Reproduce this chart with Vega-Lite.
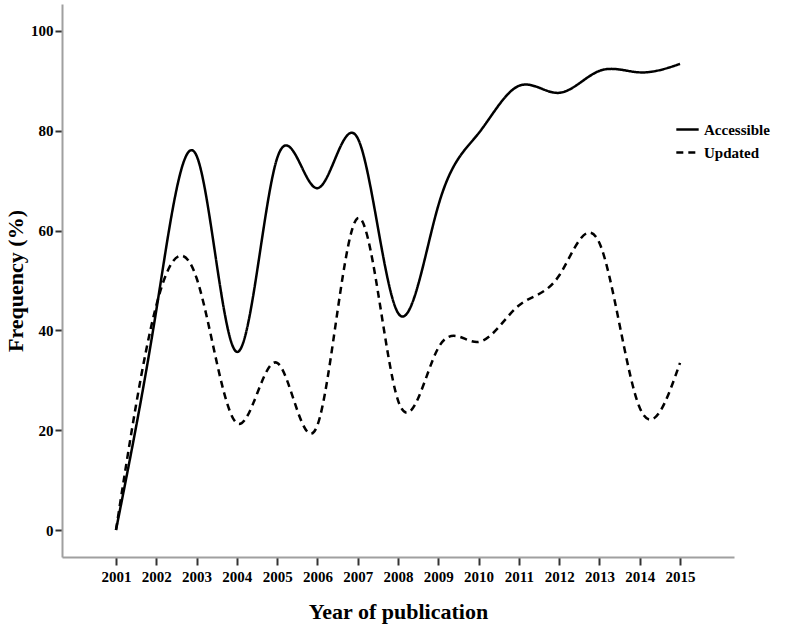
{
  "$schema": "https://vega.github.io/schema/vega-lite/v6.json",
  "autosize": "none",
  "width": 672,
  "height": 553,
  "padding": {"left": 62, "top": 4, "right": 51, "bottom": 73},
  "background": "white",
  "config": {
    "view": {"stroke": null},
    "axis": {
      "grid": false,
      "labelFont": "Liberation Serif",
      "labelFontWeight": "bold",
      "labelFontSize": 15,
      "labelColor": "black",
      "titleFont": "Liberation Serif",
      "titleFontWeight": "bold",
      "titleFontSize": 22,
      "titleColor": "black",
      "domainColor": "#a0a0a0",
      "domainWidth": 2,
      "tickColor": "#333333",
      "tickWidth": 2
    },
    "legend": {
      "labelFont": "Liberation Serif",
      "labelFontWeight": "bold",
      "labelFontSize": 15,
      "labelColor": "black"
    }
  },
  "data": {
    "values": [
      {"year": 2001, "series": "Accessible", "value": 0},
      {"year": 2002, "series": "Accessible", "value": 44},
      {"year": 2003, "series": "Accessible", "value": 75},
      {"year": 2004, "series": "Accessible", "value": 35.7},
      {"year": 2005, "series": "Accessible", "value": 74.5},
      {"year": 2006, "series": "Accessible", "value": 68.5},
      {"year": 2007, "series": "Accessible", "value": 78.5},
      {"year": 2008, "series": "Accessible", "value": 43.5},
      {"year": 2009, "series": "Accessible", "value": 65},
      {"year": 2010, "series": "Accessible", "value": 79.5},
      {"year": 2011, "series": "Accessible", "value": 89},
      {"year": 2012, "series": "Accessible", "value": 87.6},
      {"year": 2013, "series": "Accessible", "value": 92},
      {"year": 2014, "series": "Accessible", "value": 91.7},
      {"year": 2015, "series": "Accessible", "value": 93.4},
      {"year": 2001, "series": "Updated", "value": 0},
      {"year": 2002, "series": "Updated", "value": 45},
      {"year": 2003, "series": "Updated", "value": 50.5},
      {"year": 2004, "series": "Updated", "value": 21.4},
      {"year": 2005, "series": "Updated", "value": 33.5},
      {"year": 2006, "series": "Updated", "value": 21},
      {"year": 2007, "series": "Updated", "value": 62.5},
      {"year": 2008, "series": "Updated", "value": 26},
      {"year": 2009, "series": "Updated", "value": 36.5},
      {"year": 2010, "series": "Updated", "value": 37.7},
      {"year": 2011, "series": "Updated", "value": 45},
      {"year": 2012, "series": "Updated", "value": 51},
      {"year": 2013, "series": "Updated", "value": 57.5},
      {"year": 2014, "series": "Updated", "value": 24.5},
      {"year": 2015, "series": "Updated", "value": 33.5}
    ]
  },
  "mark": {"type": "line", "interpolate": "natural", "strokeWidth": 2.5, "color": "black"},
  "encoding": {
    "x": {
      "field": "year",
      "type": "quantitative",
      "scale": {"domain": [1999.66, 2016.34], "nice": false, "zero": false},
      "axis": {
        "title": "Year of publication",
        "values": [2001, 2002, 2003, 2004, 2005, 2006, 2007, 2008, 2009, 2010, 2011, 2012, 2013, 2014, 2015],
        "format": "d",
        "tickSize": 8,
        "labelPadding": 4,
        "titlePadding": 17
      }
    },
    "y": {
      "field": "value",
      "type": "quantitative",
      "scale": {"domain": [-5.4, 105.4], "nice": false, "zero": false},
      "axis": {
        "title": "Frequency (%)",
        "values": [0, 20, 40, 60, 80, 100],
        "tickSize": 7,
        "labelPadding": 2,
        "titlePadding": 3
      }
    },
    "strokeDash": {
      "field": "series",
      "type": "nominal",
      "scale": {"domain": ["Accessible", "Updated"], "range": [[1, 0], [7, 5]]},
      "legend": {
        "title": null,
        "orient": "none",
        "legendX": 613,
        "legendY": 113,
        "symbolType": "stroke",
        "symbolStrokeWidth": 2.5,
        "symbolSize": 500,
        "symbolStrokeColor": "black",
        "rowPadding": 2
      }
    }
  }
}
